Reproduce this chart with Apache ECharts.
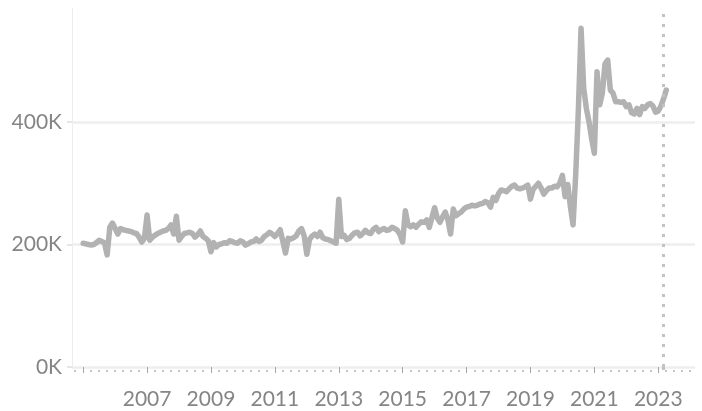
<!DOCTYPE html>
<html><head><meta charset="utf-8">
<script src="https://cdn.jsdelivr.net/npm/echarts@6/dist/echarts.min.js"></script>
<style>html,body{margin:0;padding:0;background:#fff}#c{width:702px;height:411px}</style>
</head><body><div id="c"></div>
<script>
// Monthly values, January of each year first
const v2005 = [202000, 201000, 200000, 199000, 200000, 203000, 207000, 205000, 203000, 183000, 228000, 235000];
const v2006 = [226000, 217000, 226000, 224000, 223000, 222000, 221000, 219000, 218000, 212000, 204000, 210000];
const v2007 = [248000, 207000, 212000, 215000, 218000, 220000, 222000, 223000, 226000, 232000, 217000, 246000];
const v2008 = [207000, 213000, 218000, 219000, 220000, 218000, 212000, 216000, 222000, 213000, 210000, 206000];
const v2009 = [188000, 203000, 196000, 200000, 201000, 203000, 202000, 206000, 205000, 203000, 202000, 206000];
const v2010 = [204000, 199000, 201000, 204000, 205000, 209000, 205000, 207000, 213000, 216000, 220000, 217000];
const v2011 = [213000, 218000, 224000, 205000, 186000, 210000, 209000, 211000, 214000, 222000, 226000, 214000];
const v2012 = [184000, 208000, 214000, 217000, 213000, 220000, 211000, 209000, 208000, 206000, 204000, 202000];
const v2013 = [274000, 213000, 215000, 208000, 210000, 215000, 219000, 220000, 214000, 218000, 223000, 219000];
const v2014 = [218000, 225000, 228000, 221000, 224000, 226000, 223000, 224000, 228000, 226000, 223000, 216000];
const v2015 = [204000, 255000, 232000, 229000, 232000, 228000, 233000, 237000, 236000, 240000, 228000, 244000];
const v2016 = [260000, 243000, 236000, 245000, 253000, 240000, 217000, 258000, 247000, 250000, 253000, 258000];
const v2017 = [261000, 262000, 264000, 263000, 264000, 266000, 267000, 270000, 268000, 261000, 277000, 272000];
const v2018 = [283000, 289000, 288000, 286000, 291000, 295000, 297000, 292000, 291000, 292000, 294000, 297000];
const v2019 = [274000, 290000, 295000, 300000, 292000, 282000, 288000, 292000, 292000, 295000, 294000, 300000];
const v2020 = [313000, 278000, 298000, 262000, 232000, 315000, 420000, 553000, 455000, 422000, 400000, 372000];
const v2021 = [349000, 482000, 428000, 447000, 495000, 501000, 452000, 447000, 433000, 433000, 432000, 433000];
const v2022 = [425000, 428000, 415000, 413000, 422000, 412000, 425000, 422000, 428000, 430000, 426000, 416000];
const v2023 = [418000, 426000, 438000, 452000];

const years = [2005, 2006, 2007, 2008, 2009, 2010, 2011, 2012, 2013, 2014, 2015, 2016, 2017, 2018, 2019, 2020, 2021, 2022, 2023];
const yearValues = [v2005, v2006, v2007, v2008, v2009, v2010, v2011, v2012, v2013, v2014, v2015, v2016, v2017, v2018, v2019, v2020, v2021, v2022, v2023];

const majorTicks = [2005, 2007, 2009, 2011, 2013, 2015, 2017, 2019, 2021, 2023];
const yearLabels = [2007, 2009, 2011, 2013, 2015, 2017, 2019, 2021, 2023];
const yTicks = [0, 200000, 400000];
const refLineYear = 2023 + 2 / 12; // March 2023

const data = [];
years.forEach((y, i) => yearValues[i].forEach((v, m) => data.push([y + m / 12, v])));

const minorTicks = [];
for (let q = 2004.75; q <= 2024.01; q += 0.25) {
  const r = Math.round(q * 100) / 100;
  if (!majorTicks.includes(r)) minorTicks.push(r);
}

const XMIN = 2004.65, XMAX = 2024.15;
const labelFont = { fontFamily: 'Lato', fontSize: 21, color: '#858585' };

const chart = echarts.init(document.getElementById('c'), null, { renderer: 'canvas' });
chart.setOption({
  animation: false,
  backgroundColor: '#ffffff',
  grid: { left: 72, right: 7, top: 8, bottom: 44, containLabel: false },
  xAxis: [
    {
      type: 'value', min: XMIN, max: XMAX, position: 'bottom', offset: 2,
      axisLine: { show: false },
      axisTick: { show: true, length: 6, customValues: majorTicks, lineStyle: { color: '#a6a6a6', width: 1 } },
      axisLabel: Object.assign({ show: true, customValues: yearLabels, margin: 20, formatter: v => String(Math.round(v)) }, labelFont),
      splitLine: { show: false }
    },
    {
      type: 'value', min: XMIN, max: XMAX, position: 'bottom', offset: 3,
      axisLine: { show: false },
      axisTick: { show: true, length: 2, customValues: minorTicks, lineStyle: { color: '#b4b4b4', width: 1.5 } },
      axisLabel: { show: false },
      splitLine: { show: false }
    },
    {
      type: 'value', min: XMIN, max: XMAX, position: 'bottom', offset: 0,
      axisLine: { show: false },
      axisTick: { show: true, length: 9, customValues: [refLineYear], lineStyle: { color: '#c2c2c2', width: 3, type: [3, 7] } },
      axisLabel: { show: false },
      splitLine: { show: false }
    }
  ],
  yAxis: {
    type: 'value', min: 0, max: 586000,
    axisLine: { show: true, lineStyle: { color: '#ededed', width: 1 } },
    axisTick: { show: true, length: 5, customValues: yTicks, lineStyle: { color: '#e6e6e6', width: 2 } },
    axisLabel: Object.assign({ customValues: yTicks, margin: 10, formatter: v => (v / 1000) + 'K' }, labelFont),
    splitLine: { show: true, lineStyle: { color: '#eeeeee', width: 2.5 } }
  },
  series: [{
    type: 'line',
    data: data,
    showSymbol: false,
    symbol: 'none',
    lineStyle: { color: '#b2b2b2', width: 5.5, join: 'round', cap: 'round' },
    markLine: {
      silent: true, symbol: 'none', label: { show: false },
      lineStyle: { color: '#c2c2c2', width: 3, type: [3, 7] },
      data: [{ xAxis: refLineYear }]
    },
    z: 3
  }]
});
</script>
</body></html>
